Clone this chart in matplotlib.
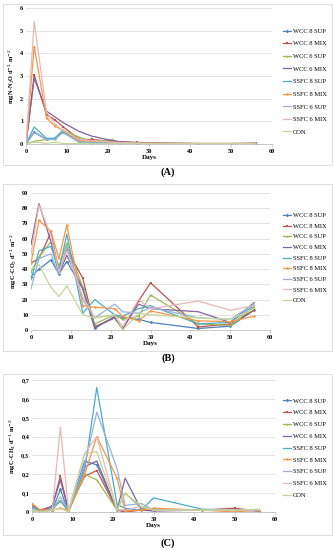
import matplotlib
matplotlib.use('Agg')
import matplotlib.pyplot as plt
from matplotlib.patches import Rectangle
from matplotlib.ticker import FuncFormatter

days = [0, 2, 5, 7, 9, 13, 16, 21, 23, 27, 30, 42, 50, 56]
series = ['WCC 8 SUP', 'WCC 8 MIX', 'WCC 6 SUP', 'WCC 6 MIX',
          'SSFC 8 SUP', 'SSFC 8 MIX', 'SSFC 6 SUP', 'SSFC 6 MIX', 'CON']

# (A) N2O
n2o = [
    [0, 0.53, 0.2, 0.25, 0.55, 0.08, 0.05, 0.05, 0.03, 0.02, 0.02, 0.01, 0.01, 0.02],
    [0, 3.05, 1.3, 1.07, 0.77, 0.2, 0.2, 0.12, 0.1, 0.07, 0.05, 0.02, 0.02, 0.03],
    [0, 0.12, 0.2, 0.22, 0.6, 0.3, 0.1, 0.2, 0.05, 0.03, 0.02, 0.01, 0.01, 0.02],
    [0, 2.9, 1.45, 1.2, 0.95, 0.55, 0.35, 0.15, 0.1, 0.06, 0.04, 0.02, 0.02, 0.03],
    [0, 0.75, 0.25, 0.25, 0.6, 0.1, 0.06, 0.04, 0.03, 0.02, 0.02, 0.01, 0.01, 0.02],
    [0, 4.3, 1.15, 0.8, 0.6, 0.15, 0.12, 0.08, 0.05, 0.04, 0.03, 0.02, 0.02, 0.02],
    [0, 0.5, 0.2, 0.2, 0.5, 0.08, 0.05, 0.04, 0.03, 0.02, 0.02, 0.01, 0.01, 0.02],
    [0, 5.4, 1.4, 0.9, 0.6, 0.2, 0.15, 0.08, 0.06, 0.04, 0.03, 0.02, 0.02, 0.03],
    [0, 0.1, 0.02, 0.08, 0.02, 0.02, 0.01, 0.01, 0.01, 0.01, 0.01, 0.01, 0.01, 0.01],
]

# (B) CO2
co2 = [
    [35, 40, 46, 37, 45, 27, 1, 9, 8, 7, 5, 1, 2.5, 13],
    [44, 47, 64, 38, 53, 34, 2, 8, 0.5, 19, 31, 2, 4, 13],
    [38, 48, 58, 42, 57, 28, 4, 10, 7, 9, 23, 4, 3, 15],
    [56, 83, 58, 37, 49, 27, 2, 8, 1, 17, 14, 12, 5, 18],
    [33, 52, 55, 39, 63, 11, 20, 10, 9, 14, 16, 4, 5, 16],
    [44, 72, 65, 47, 69, 16, 15, 14, 9, 6, 12.5, 6, 5.5, 9],
    [27, 47, 50, 36, 55, 20, 8, 17, 12, 11, 15, 8, 7, 17],
    [50, 82, 62, 38, 52, 22, 8, 10, 2, 20, 14, 19, 13, 16],
    [40, 43, 28, 22, 29, 10, 8, 10, 0, 11, 10, 8, 7, 14],
]

# (C) CH4
ch4 = [
    [0.03, 0.01, 0.01, 0.12, 0.0, 0.27, 0.25, 0.01, 0.01, 0.01, 0.01, 0.01, 0.01, 0.005],
    [0.04, 0.01, 0.03, 0.19, 0.01, 0.19, 0.22, 0.01, 0.0, 0.01, 0.01, 0.01, 0.02, 0.005],
    [0.01, 0.0, 0.01, 0.06, 0.0, 0.2, 0.17, 0.01, 0.1, 0.02, 0.01, 0.01, 0.01, 0.01],
    [0.01, 0.0, 0.03, 0.17, 0.01, 0.24, 0.27, 0.01, 0.18, 0.01, 0.005, 0.01, 0.01, 0.01],
    [0.03, 0.0, 0.02, 0.06, 0.01, 0.22, 0.66, 0.04, 0.02, 0.01, 0.075, 0.015, 0.01, 0.01],
    [0.045, 0.01, 0.01, 0.02, 0.01, 0.2, 0.4, 0.18, 0.005, 0.01, 0.02, 0.01, 0.0, 0.01],
    [0.02, 0.0, 0.01, 0.08, 0.01, 0.25, 0.53, 0.23, 0.035, 0.045, 0.01, 0.01, 0.01, 0.01],
    [0.01, 0.0, 0.01, 0.45, 0.01, 0.31, 0.4, 0.01, 0.01, 0.03, 0.01, 0.01, 0.01, 0.01],
    [0.01, 0.0, 0.01, 0.02, 0.0, 0.31, 0.32, 0.01, 0.1, 0.03, 0.01, 0.01, 0.01, 0.015],
]

colors = ['#4F81BD', '#C0504D', '#9BBB59', '#8064A2', '#4BACC6',
          '#F79646', '#95B3D7', '#E6B9B8', '#C3D69B']
markers = ['D', 's', '^', None, None, 'o', None, None, None]

plt.rcParams['font.family'] = ['Liberation Serif', 'DejaVu Serif']
W, H = 333.0, 550.0
fig = plt.figure(figsize=(W / 100, H / 100), dpi=100)


def fx(px):
    return px / W


def fy(py):
    return 1 - py / H


def panel(data, box, ax_px, ymax, ystep, ylabel, tag, tag_y, leg_y, leg_sp, comma=False):
    bx0, by0, bx1, by1 = box
    fig.patches.append(Rectangle((fx(bx0), fy(by1)), fx(bx1 - bx0), (by1 - by0) / H,
                                 transform=fig.transFigure, fill=False,
                                 edgecolor='#d9d9d9', linewidth=0.6))
    l, t, r, b = ax_px
    ax = fig.add_axes([fx(l), fy(b), fx(r - l), (b - t) / H])
    for vals, name, c, m in zip(data, series, colors, markers):
        ax.plot(days, vals, color=c, linewidth=0.9, marker=m, markersize=1.8,
                markeredgewidth=0, label=name)
    ax.set_xlim(0, 60)
    ax.set_ylim(0, ymax)
    ax.set_xticks(range(0, 61, 10))
    yt = [i * ystep for i in range(int(round(ymax / ystep)) + 1)]
    ax.set_yticks(yt)
    if comma:
        ax.yaxis.set_major_formatter(FuncFormatter(lambda v, p: ('%g' % round(v, 2)).replace('.', ',')))
    ax.grid(axis='y', color='#d9d9d9', linewidth=0.5)
    ax.set_axisbelow(True)
    for s in ['top', 'right', 'left']:
        ax.spines[s].set_visible(False)
    ax.spines['bottom'].set_color('#bfbfbf')
    ax.spines['bottom'].set_linewidth(0.6)
    ax.tick_params(axis='x', length=2, width=0.5, color='#bfbfbf', labelsize=4.5, pad=1.5)
    ax.tick_params(axis='y', length=0, labelsize=4.5, pad=2)
    for lab in ax.get_xticklabels() + ax.get_yticklabels():
        lab.set_fontweight('bold')
    ax.set_xlabel('Days', fontsize=5, fontweight='bold', labelpad=1)
    ax.set_ylabel(ylabel, fontsize=4.5, fontweight='bold', labelpad=2)
    # legend: handles start ~283px, centred at leg_y (px)
    ax.legend(loc='center left', bbox_to_anchor=(fx(283), fy(leg_y)),
              bbox_transform=fig.transFigure, frameon=False,
              fontsize=4.7, handlelength=1.3, handletextpad=0.2,
              labelspacing=leg_sp, borderaxespad=0, borderpad=0)
    fig.text(0.505, fy(tag_y), tag, ha='center', va='center', fontsize=7.5, fontweight='bold')
    return ax


panel(n2o, (3, 4, 332, 165), (26, 8, 272, 144), 6, 1,
      r'mg N-N$_2$O d$^{-1}$ m$^{-2}$', '(A)', 172, 81.5, 1.08)
panel(co2, (3, 184, 332, 351), (31, 193, 270, 330), 90, 10,
      r'mg C-CO$_2$ d$^{-1}$ m$^{-2}$', '(B)', 358, 258, 0.78)
panel(ch4, (3, 374, 332, 535), (32, 380, 275, 512), 0.7, 0.1,
      r'mg C-CH$_4$ d$^{-1}$ m$^{-2}$', '(C)', 543, 448, 0.95, comma=True)

fig.savefig('out.png', dpi=100)
